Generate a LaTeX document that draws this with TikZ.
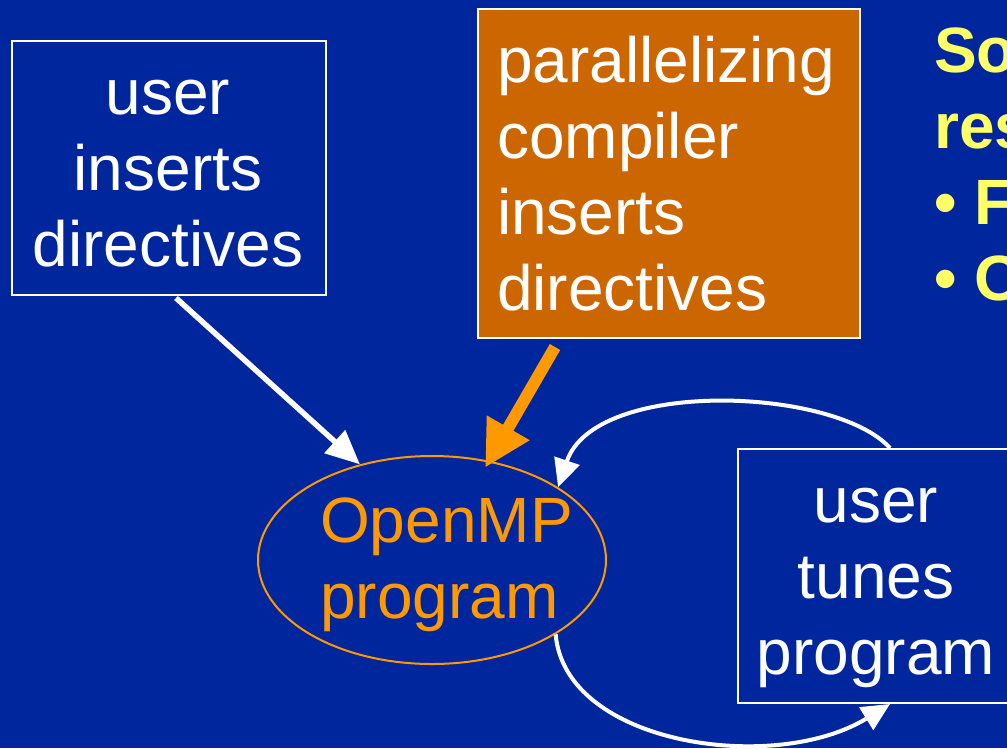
\documentclass[tikz,border=0pt]{standalone}
\usepackage{fontspec}
\setmainfont{Liberation Sans}
\usetikzlibrary{shapes.geometric,arrows.meta,calc}

\definecolor{slideblue}{RGB}{0,38,158}
\definecolor{boxorange}{RGB}{204,102,0}
\definecolor{mporange}{RGB}{255,153,0}
\definecolor{noteyellow}{RGB}{255,255,102}

\tikzset{
  bigtext/.style={font=\fontsize{64}{76}\selectfont, inner sep=0pt},
  framebox/.style={draw=white, line width=2pt, inner sep=0pt, anchor=north west},
  whitearrow/.style={draw=white, line width=5.5pt, -{Triangle[length=34pt,width=30pt]}},
  looparrow/.style={draw=white, line width=4pt, -{Triangle[length=28pt,width=26pt]}},
  orangearrow/.style={draw=mporange, line width=12pt, -{Triangle[length=46pt,width=46pt]}}
}

\begin{document}
\begin{tikzpicture}[x=1pt,y=-1pt]
  \clip (0,0) rectangle (1007,748);
  \fill[slideblue] (0,0) rectangle (1007,748);

  % boxes
  \node[framebox, minimum width=314pt, minimum height=254pt] (lbox) at (11,40) {};
  \node[framebox, fill=boxorange, minimum width=382pt, minimum height=329pt] (obox) at (477,8) {};
  \node[framebox, minimum width=300pt, minimum height=254pt] (rbox) at (737,448) {};
  \node[draw=mporange, line width=2pt, ellipse, inner sep=0pt,
        minimum width=348pt, minimum height=208pt] (ell) at (432,560) {};

  % texts (the base anchor sits on the last line)
  \node[bigtext, white, align=center, anchor=base] (ltext) at (168,266)
    {user\\inserts\\directives};
  \node[bigtext, white, align=left, anchor=base west] (otext) at (497,310)
    {parallelizing\\compiler\\inserts\\directives};
  \node[bigtext, white, align=center, anchor=base] (rtext) at (876,674)
    {user\\tunes\\program};
  \node[bigtext, mporange, align=left, anchor=base west] (etext) at (320,618)
    {OpenMP\\program};
  \node[bigtext, noteyellow, font=\fontsize{64}{76}\selectfont\bfseries,
        align=left, anchor=base west] (ytext) at (934,300)
    {So\\res\\\textbullet{} F\\\textbullet{} O};

  % connectors
  \coordinate (lstart) at ($(lbox.south)+(7,2)$);
  \coordinate (ostart) at ($(obox.south west)+(78,8)$);
  \draw[whitearrow] (lstart) -- (ell.127);
  \draw[orangearrow] (ostart) -- ($(ell.63)+(2,8)$);
  \draw[looparrow] ($(rbox.north)+(2,0)$) .. controls (835,387) and (595,378) .. (ell.30);
  \draw[looparrow] (ell.-31) .. controls (565,745) and (775,775) .. ($(rbox.south)+(2,0)$);
\end{tikzpicture}
\end{document}
